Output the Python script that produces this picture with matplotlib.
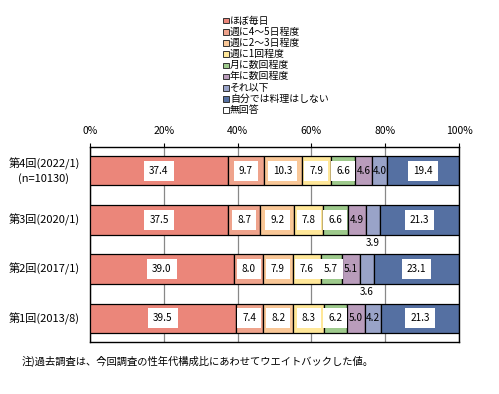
import matplotlib
matplotlib.use("Agg")
import matplotlib.pyplot as plt
from matplotlib.patches import Rectangle
import numpy as np

plt.rcParams['font.family'] = ['Noto Sans CJK JP', 'DejaVu Sans']

#
# DATA
#
rounds = ["第4回(2022/1)\n(n=10130)", "第3回(2020/1)", "第2回(2017/1)", "第1回(2013/8)"]
categories = ["ほぼ毎日", "週に4～5日程度", "週に2～3日程度", "週に1回程度",
              "月に数回程度", "年に数回程度", "それ以下", "自分では料理はしない", "無回答"]
v_daily = [37.4, 37.5, 39.0, 39.5]
v_4to5 = [9.7, 8.7, 8.0, 7.4]
v_2to3 = [10.3, 9.2, 7.9, 8.2]
v_week = [7.9, 7.8, 7.6, 8.3]
v_month = [6.6, 6.6, 5.7, 6.2]
v_year = [4.6, 4.9, 5.1, 5.0]
v_less = [4.0, 3.9, 3.6, 4.2]
v_never = [19.4, 21.3, 23.1, 21.3]
v_na = [0.1, 0.1, 0.0, 0.0]
colors = ["#EB867A", "#EFA38C", "#F9C797", "#FFE799", "#9ECA8C",
          "#B99CBB", "#99A3C8", "#5570A2", "#FFFFFF"]
note = "注)過去調査は、今回調査の性年代構成比にあわせてウエイトバックした値。"

values = np.array([v_daily, v_4to5, v_2to3, v_week, v_month, v_year, v_less, v_never, v_na])

W, H = 499, 394
fig = plt.figure(figsize=(W / 100, H / 100), dpi=100)
# axes box in pixels : x 90..459, y 147..342
ax = fig.add_axes([90 / W, 1 - 342 / H, 369 / W, 195 / H])

ypos = np.arange(len(rounds))
bar_h = 0.6
left = np.zeros(len(rounds))
for k, cat in enumerate(categories):
    ax.barh(ypos, values[k], left=left, height=bar_h, color=colors[k],
            edgecolor="black", linewidth=0.9, zorder=3)
    for i in range(len(rounds)):
        v = values[k][i]
        cx = left[i] + v / 2
        if k == 8:
            continue
        if v >= 5.5:
            ax.text(cx, ypos[i], f"{v:.1f}", ha="center", va="center", fontsize=7.2,
                    zorder=5, bbox=dict(boxstyle="square,pad=0.5", fc="white", ec="none"))
        elif v >= 4.0:
            ax.text(cx, ypos[i], f"{v:.1f}", ha="center", va="center", fontsize=7.2, zorder=5)
        else:
            ax.text(cx, ypos[i] + bar_h / 2 + 0.17, f"{v:.1f}", ha="center", va="center",
                    fontsize=7.2, zorder=5)
    left += values[k]

ax.set_xlim(0, 100)
ax.set_ylim(3.48, -0.48)
ax.xaxis.tick_top()
ax.set_xticks(np.arange(0, 101, 20))
ax.set_xticklabels([f"{t}%" for t in range(0, 101, 20)], fontsize=7.5)
ax.tick_params(axis="x", direction="out", length=3, width=0.8, pad=5, color="black")
ax.set_yticks([])
ax.grid(axis="x", color="#888888", linewidth=0.9, zorder=0)
for s in ax.spines.values():
    s.set_linewidth(1.0)
    s.set_color("black")

# category labels on the left
for i, r in enumerate(rounds):
    ax.text(-0.125, ypos[i], r, transform=ax.get_yaxis_transform(), ha="center",
            va="center", fontsize=8, multialignment="center", linespacing=1.4)

# legend drawn item by item
for k, cat in enumerate(categories):
    yc = 1 - (20.5 + k * 11.2) / H
    fig.patches.append(Rectangle((223 / W, yc - 2.8 / H), 5.6 / W, 5.6 / H,
                                 transform=fig.transFigure, facecolor=colors[k],
                                 edgecolor="#333333", linewidth=0.7))
    fig.text(230 / W, yc, cat, ha="left", va="center", fontsize=7.1)

fig.text(22 / W, 1 - 361 / H, note, ha="left", va="center", fontsize=7.4)

fig.savefig("out.png", dpi=100)
